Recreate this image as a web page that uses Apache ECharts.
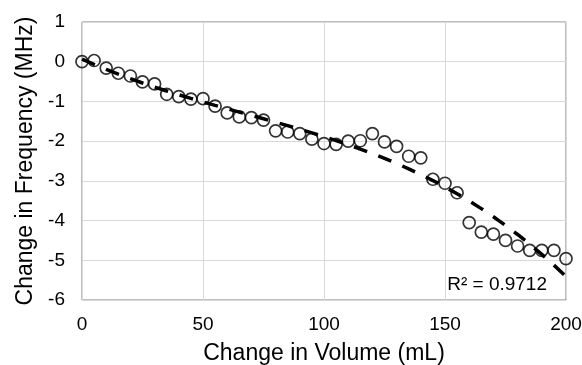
<!DOCTYPE html>
<html>
<head>
<meta charset="utf-8">
<script src="https://cdn.jsdelivr.net/npm/echarts@6/dist/echarts.min.js"></script>
<style>html,body{margin:0;padding:0;background:#fff;}#c{width:582px;height:365px;}</style>
</head>
<body>
<div id="c"></div>
<script>
const volume = [0,5,10,15,20,25,30,35,40,45,50,55,60,65,70,75,80,85,90,95,100,105,110,115,120,125,130,135,140,145,150,155,160,165,170,175,180,185,190,195,200];
const frequency = [0,0.03,-0.16,-0.29,-0.36,-0.51,-0.56,-0.82,-0.88,-0.94,-0.93,-1.12,-1.29,-1.39,-1.41,-1.47,-1.74,-1.77,-1.81,-1.95,-2.06,-2.08,-2.0,-1.99,-1.81,-2.02,-2.13,-2.38,-2.42,-2.96,-3.06,-3.30,-4.05,-4.29,-4.34,-4.50,-4.64,-4.75,-4.75,-4.75,-4.96];
const xTicks = [0,50,100,150,200];
const yTicks = [-6,-5,-4,-3,-2,-1,0,1];
const r2Label = 'R² = 0.9712';
const trendOrder = 3;

// polynomial least-squares trendline computed from the data
function polyFit(xs, ys, order){
  const m = order + 1, sc = 100; // scale x for numerical stability
  const A = [];
  for (let r = 0; r < m; r++){ A.push(new Array(m + 1).fill(0)); }
  for (let i = 0; i < xs.length; i++){
    const x = xs[i] / sc, y = ys[i];
    for (let r = 0; r < m; r++){
      for (let c = 0; c < m; c++) A[r][c] += Math.pow(x, r + c);
      A[r][m] += y * Math.pow(x, r);
    }
  }
  for (let i = 0; i < m; i++){
    for (let j = i + 1; j < m; j++){
      const f = A[j][i] / A[i][i];
      for (let k = i; k <= m; k++) A[j][k] -= f * A[i][k];
    }
  }
  const c = new Array(m).fill(0);
  for (let i = m - 1; i >= 0; i--){
    let v = A[i][m];
    for (let k = i + 1; k < m; k++) v -= A[i][k] * c[k];
    c[i] = v / A[i][i];
  }
  return x => c.reduce((s, ck, k) => s + ck * Math.pow(x / sc, k), 0);
}
const f = polyFit(volume, frequency, trendOrder);
const trend = volume.map(x => [x, f(x)]);

const font = '"Liberation Sans", Arial, sans-serif';
const chart = echarts.init(document.getElementById('c'), null, {renderer:'canvas'});
chart.setOption({
  animation:false,
  backgroundColor:'#fff',
  grid:{left:82,top:22,right:16,bottom:65,outerBoundsMode:'none',containLabel:false,show:true,borderColor:'#7f7f7f',borderWidth:1,backgroundColor:'transparent'},
  xAxis:{type:'value',min:xTicks[0],max:xTicks[xTicks.length-1],interval:50,
    name:'Change in Volume (mL)',nameLocation:'middle',nameGap:42,
    nameTextStyle:{fontFamily:font,fontSize:23,color:'#000'},
    axisLine:{show:false},axisTick:{show:false},
    axisLabel:{fontFamily:font,fontSize:19,color:'#000',margin:15},
    splitLine:{show:true,lineStyle:{color:'#d9d9d9',width:1}}},
  yAxis:{type:'value',min:yTicks[0],max:yTicks[yTicks.length-1],interval:1,
    name:'Change in Frequency (MHz)',nameLocation:'middle',nameGap:42,
    nameTextStyle:{fontFamily:font,fontSize:23,color:'#000'},
    axisLine:{show:false},axisTick:{show:false},
    axisLabel:{fontFamily:font,fontSize:19,color:'#000',margin:17},
    splitLine:{show:true,lineStyle:{color:'#d9d9d9',width:1}}},
  graphic:[{type:'text',right:35,top:275,style:{text:r2Label,font:'19px '+font,fill:'#000'}}],
  series:[
    {type:'scatter',data:volume.map((x,i)=>[x,frequency[i]]),symbol:'circle',symbolSize:12,
      itemStyle:{color:'transparent',borderColor:'#000',borderWidth:1.7},z:2},
    {type:'line',data:trend,showSymbol:false,symbol:'none',smooth:false,
      lineStyle:{color:'#000',width:3.5,type:[14,12]},z:3}
  ]
});
</script>
</body>
</html>
